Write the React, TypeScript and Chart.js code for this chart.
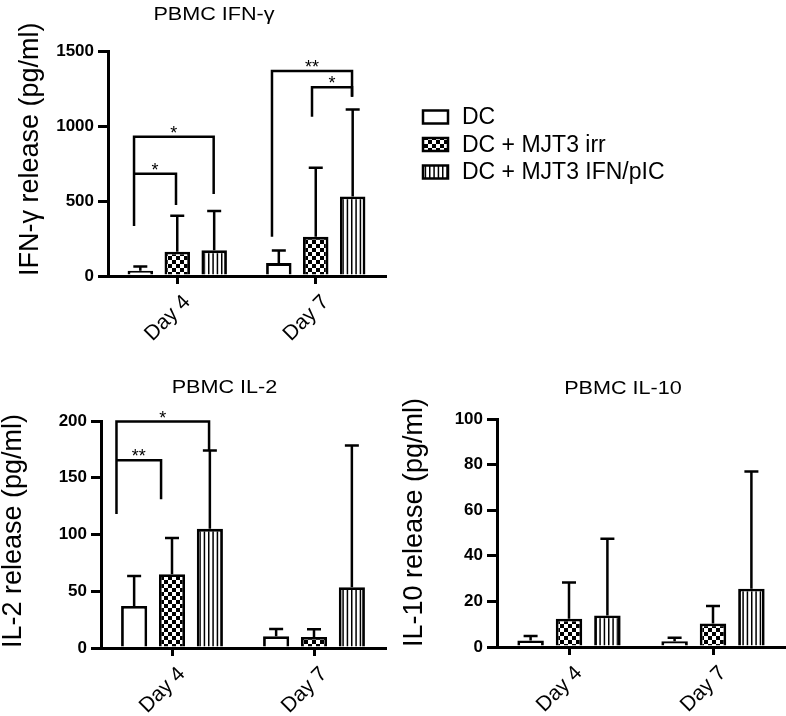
import React, { useEffect, useRef } from "react";
import { Chart, registerables } from "chart.js";

Chart.register(...registerables);

const FONT = "'Liberation Sans', Arial, Helvetica, sans-serif";

const days = ["Day 4", "Day 7"];
const groups = ["DC", "DC + MJT3 irr", "DC + MJT3 IFN/pIC"];

// PBMC IFN-γ (pg/ml)
const ifnDC = [35, 86];
const ifnIrr = [162, 261];
const ifnPIC = [171, 530];
const ifnDCErr = [28, 84];
const ifnIrrErr = [239, 460];
const ifnPICErr = [262, 580];
const ifnMax = 1500;
const ifnStep = 500;

// PBMC IL-2 (pg/ml)
const il2DC = [37, 10.3];
const il2Irr = [65, 9.7];
const il2PIC = [105, 53.5];
const il2DCErr = [26.5, 6.5];
const il2IrrErr = [32, 6.8];
const il2PICErr = [69, 125];
const il2Max = 200;
const il2Step = 50;

// PBMC IL-10 (pg/ml)
const il10DC = [2.8, 2.5];
const il10Irr = [12.4, 10.3];
const il10PIC = [13.8, 25.6];
const il10DCErr = [2.0, 1.6];
const il10IrrErr = [15.9, 7.7];
const il10PICErr = [33.7, 51.4];
const il10Max = 100;
const il10Step = 20;

// significance brackets: [xLeft, yLeftEnd, yTop, xRight, yRightEnd, label]
// x in category units (0 = Day 4, 1 = Day 7), y in data units
const ifnBrackets: [number, number, number, number, number, string][] = [
  [-0.312, 333, 929, 0.263, 547, "*"],
  [-0.312, 682, 682, -0.009, 473, "*"],
  [0.684, 262, 1367, 1.262, 1195, "**"],
  [0.973, 1062, 1258, 1.262, 1195, "*"],
];
const il2Brackets: [number, number, number, number, number, string][] = [
  [-0.391, 118, 199.5, 0.261, 174, "*"],
  [-0.391, 165.5, 165.5, -0.077, 131, "**"],
];

function checker(ctx: CanvasRenderingContext2D) {
  const c = document.createElement("canvas");
  c.width = 8;
  c.height = 8;
  const g = c.getContext("2d")!;
  g.fillStyle = "#fff";
  g.fillRect(0, 0, 8, 8);
  g.fillStyle = "#000";
  g.fillRect(0, 0, 4, 4);
  g.fillRect(4, 4, 4, 4);
  return ctx.createPattern(c, "repeat")!;
}

function stripes(ctx: CanvasRenderingContext2D) {
  const c = document.createElement("canvas");
  c.width = 13;
  c.height = 4;
  const g = c.getContext("2d")!;
  g.fillStyle = "#fff";
  g.fillRect(0, 0, 13, 4);
  g.fillStyle = "#000";
  g.fillRect(0, 0, 1.5, 4);
  g.fillRect(4.33, 0, 1.5, 4);
  g.fillRect(8.67, 0, 1.5, 4);
  return ctx.createPattern(c, "repeat")!;
}

const errorPlugin = {
  id: "errbars",
  afterDatasetsDraw(chart: any) {
    const ctx = chart.ctx;
    const y = chart.scales.y;
    ctx.save();
    ctx.strokeStyle = "#000";
    ctx.lineWidth = 2.5;
    chart.data.datasets.forEach((ds: any, i: number) => {
      const meta = chart.getDatasetMeta(i);
      meta.data.forEach((bar: any, j: number) => {
        const topPx = y.getPixelForValue(ds.data[j] + ds.errors[j]);
        ctx.beginPath();
        ctx.moveTo(bar.x, bar.y);
        ctx.lineTo(bar.x, topPx);
        ctx.moveTo(bar.x - 7, topPx);
        ctx.lineTo(bar.x + 7, topPx);
        ctx.stroke();
      });
    });
    ctx.restore();
  },
};

function bracketPlugin(brackets: [number, number, number, number, number, string][]) {
  return {
    id: "brackets",
    afterDatasetsDraw(chart: any) {
      const ctx = chart.ctx;
      const xs = chart.scales.x;
      const ys = chart.scales.y;
      ctx.save();
      ctx.strokeStyle = "#000";
      ctx.fillStyle = "#000";
      ctx.lineWidth = 2.5;
      ctx.lineJoin = "miter";
      brackets.forEach(([xl, yl, yt, xr, yr, label]) => {
        const pxl = xs.getPixelForValue(xl);
        const pxr = xs.getPixelForValue(xr);
        const pyl = ys.getPixelForValue(yl);
        const pyt = ys.getPixelForValue(yt);
        const pyr = ys.getPixelForValue(yr);
        ctx.beginPath();
        ctx.moveTo(pxl, pyl);
        ctx.lineTo(pxl, pyt);
        ctx.lineTo(pxr, pyt);
        ctx.lineTo(pxr, pyr);
        ctx.stroke();
        ctx.font = `18px ${FONT}`;
        ctx.textAlign = "center";
        ctx.textBaseline = "alphabetic";
        ctx.fillText(label, (pxl + pxr) / 2, pyt + 2);
      });
      ctx.restore();
    },
  };
}

function titlePlugin(text: string, x: number, y: number) {
  return {
    id: "panelTitle",
    afterDraw(chart: any) {
      const ctx = chart.ctx;
      ctx.save();
      ctx.font = `18px ${FONT}`;
      ctx.fillStyle = "#000";
      ctx.textAlign = "center";
      ctx.textBaseline = "middle";
      ctx.translate(x, y);
      ctx.scale(1.2, 1);
      ctx.fillText(text, 0, 0);
      ctx.restore();
    },
  };
}

function legendPlugin(x: number, y0: number, gap: number) {
  return {
    id: "panelLegend",
    afterDraw(chart: any) {
      const ctx = chart.ctx;
      ctx.save();
      chart.data.datasets.forEach((ds: any, i: number) => {
        const cy = y0 + i * gap;
        ctx.fillStyle = ds.backgroundColor;
        ctx.fillRect(x, cy - 6.5, 25, 13);
        ctx.strokeStyle = "#000";
        ctx.lineWidth = 2.5;
        ctx.strokeRect(x, cy - 6.5, 25, 13);
        ctx.fillStyle = "#000";
        ctx.font = `23px ${FONT}`;
        ctx.textAlign = "left";
        ctx.textBaseline = "middle";
        ctx.fillText(ds.label, x + 39, cy + 1);
      });
      ctx.restore();
    },
  };
}

type PanelSpec = {
  values: number[][];
  errors: number[][];
  max: number;
  step: number;
  yTitle: string;
  titlePad: number;
  padding: { top: number; left: number; right: number; bottom: number };
  yWidth: number;
  xHeight: number;
  extraPlugins: any[];
};

function buildConfig(ctx: CanvasRenderingContext2D, p: PanelSpec): any {
  const bgs = ["#ffffff", checker(ctx), stripes(ctx)];
  return {
    type: "bar",
    data: {
      labels: days,
      datasets: p.values.map((v, i) => ({
        label: groups[i],
        data: v,
        errors: p.errors[i],
        backgroundColor: bgs[i],
        borderColor: "#000",
        borderWidth: 2.8,
        borderSkipped: "start",
        categoryPercentage: 0.8,
        barPercentage: 0.69,
      })),
    },
    options: {
      responsive: false,
      animation: false,
      devicePixelRatio: 1,
      layout: { padding: p.padding },
      plugins: {
        legend: { display: false },
        tooltip: { enabled: false },
        title: { display: false },
      },
      scales: {
        x: {
          grid: {
            offset: false,
            drawOnChartArea: false,
            drawTicks: true,
            tickLength: 8,
            lineWidth: 3,
            color: "#000",
          },
          border: { display: true, color: "#000", width: 3 },
          ticks: {
            autoSkip: false,
            minRotation: 45,
            maxRotation: 45,
            color: "#000",
            font: { family: FONT, size: 21 },
            padding: 6,
            labelOffset: 10,
          },
          afterFit: (s: any) => {
            s.height = p.xHeight;
          },
        },
        y: {
          min: 0,
          max: p.max,
          grid: {
            drawOnChartArea: false,
            drawTicks: true,
            tickLength: 10,
            lineWidth: 3,
            color: "#000",
          },
          border: { display: true, color: "#000", width: 3 },
          ticks: {
            stepSize: p.step,
            color: "#000",
            padding: 4,
            font: { family: FONT, size: 17, weight: "bold" },
            callback: (v: any) => String(v),
          },
          title: {
            display: true,
            text: p.yTitle,
            align: "start",
            color: "#000",
            font: { family: FONT, size: 27, lineHeight: 1 },
            padding: { top: p.titlePad, bottom: 0 },
          },
          afterFit: (s: any) => {
            s.width = p.yWidth;
          },
        },
      },
    },
    plugins: [errorPlugin, ...p.extraPlugins],
  };
}

function Panel(props: {
  left: number;
  top: number;
  width: number;
  height: number;
  spec: PanelSpec;
}) {
  const ref = useRef<HTMLCanvasElement | null>(null);
  useEffect(() => {
    const canvas = ref.current!;
    const ctx = canvas.getContext("2d")!;
    const chart = new Chart(canvas, buildConfig(ctx, props.spec));
    return () => chart.destroy();
  }, []);
  return (
    <canvas
      ref={ref}
      width={props.width}
      height={props.height}
      style={{
        position: "absolute",
        left: props.left,
        top: props.top,
        width: props.width,
        height: props.height,
      }}
    />
  );
}

export default function App() {
  const ifnSpec: PanelSpec = {
    values: [ifnDC, ifnIrr, ifnPIC],
    errors: [ifnDCErr, ifnIrrErr, ifnPICErr],
    max: ifnMax,
    step: ifnStep,
    yTitle: "IFN-γ release (pg/ml)",
    titlePad: 17,
    padding: { top: 51, left: 0, right: 401, bottom: 0 },
    yWidth: 108,
    xHeight: 74,
    extraPlugins: [
      bracketPlugin(ifnBrackets),
      titlePlugin("PBMC IFN-γ", 214, 15),
      legendPlugin(423, 117, 27.5),
    ],
  };
  const il2Spec: PanelSpec = {
    values: [il2DC, il2Irr, il2PIC],
    errors: [il2DCErr, il2IrrErr, il2PICErr],
    max: il2Max,
    step: il2Step,
    yTitle: "IL-2 release (pg/ml)",
    titlePad: 0,
    padding: { top: 61, left: 0, right: 15, bottom: 0 },
    yWidth: 101,
    xHeight: 68,
    extraPlugins: [bracketPlugin(il2Brackets), titlePlugin("PBMC IL-2", 224.5, 28.5)],
  };
  const il10Spec: PanelSpec = {
    values: [il10DC, il10Irr, il10PIC],
    errors: [il10DCErr, il10IrrErr, il10PICErr],
    max: il10Max,
    step: il10Step,
    yTitle: "IL-10 release (pg/ml)",
    titlePad: 1,
    padding: { top: 59, left: 0, right: 1, bottom: 0 },
    yWidth: 97,
    xHeight: 69,
    extraPlugins: [titlePlugin("PBMC IL-10", 223, 29)],
  };
  return (
    <div
      style={{
        position: "absolute",
        left: 0,
        top: 0,
        width: 786,
        height: 716,
        background: "#fff",
        overflow: "hidden",
      }}
    >
      <Panel left={0} top={0} width={786} height={350} spec={ifnSpec} />
      <Panel left={0} top={360} width={400} height={356} spec={il2Spec} />
      <Panel left={400} top={360} width={386} height={356} spec={il10Spec} />
    </div>
  );
}
